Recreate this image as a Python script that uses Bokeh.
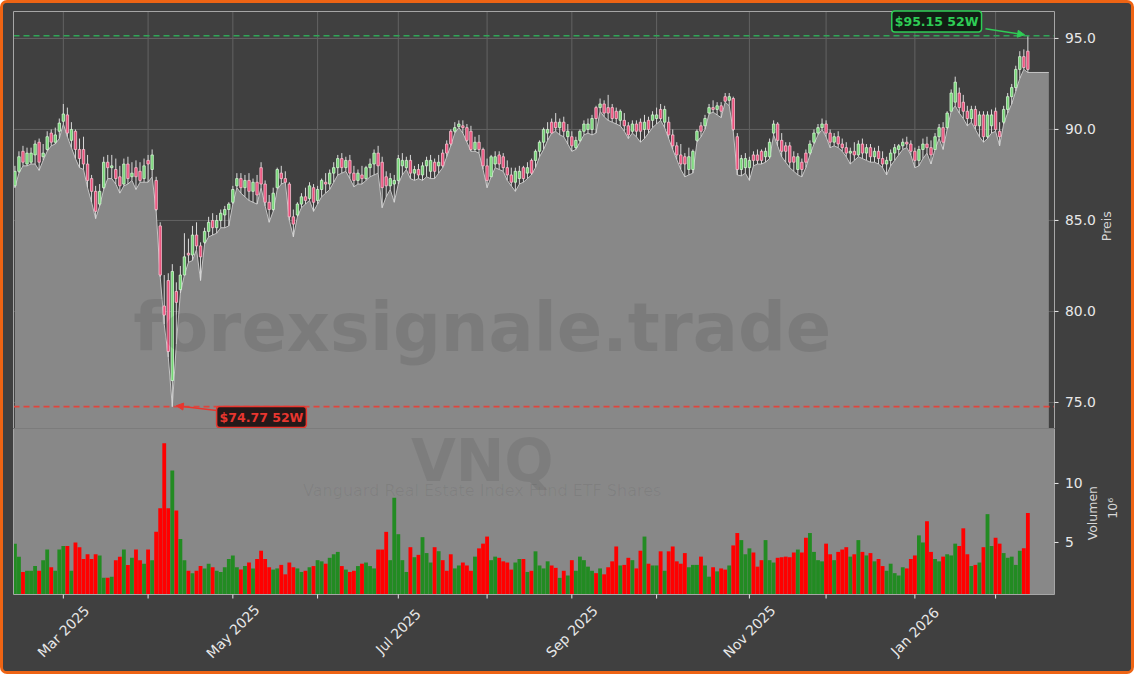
import math
import pandas as pd
from bokeh.plotting import figure
from bokeh.layouts import column
from bokeh.models import ColumnDataSource, Range1d, Label, Arrow, NormalHead
from bokeh.core.properties import value
from bokeh.embed import file_html
from bokeh.resources import INLINE

# ---------------- data ----------------
ticker_symbol = "VNQ"
fund_name = "Vanguard Real Estate Index Fund ETF Shares"
watermark = "forexsignale.trade"
start_date = "2025-02-12"
end_date = "2026-02-12"
market_holidays = ["2025-02-17", "2025-04-18", "2025-05-26", "2025-06-19", "2025-07-04",
                   "2025-09-01", "2025-11-27", "2025-12-25", "2026-01-01", "2026-01-19"]
high_52w = 95.15
low_52w = 74.77
price_ticks = [75, 80, 85, 90, 95]
volume_ticks = [5, 10]

opens = [86.9, 87.7, 88.8, 88.1, 88.2, 88.6, 89.3, 88.5, 88.9, 89.8,
         89.3, 89.9, 90.45, 90.8, 89.4, 89.9, 88.9, 88.9, 88.1, 87.3,
         86.6, 85.9, 86.8, 88.2, 87.9, 87.8, 87.4, 87.0, 88.1, 87.4,
         87.9, 87.7, 87.3, 88.3, 87.8, 87.2, 84.7, 80.3, 81.7, 76.2,
         81.1, 81.2, 82.0, 83.2, 83.1, 84.2, 83.6, 83.8, 84.4, 85.0,
         84.6, 85.0, 85.3, 85.6, 86.0, 86.9, 87.3, 86.8, 87.2, 86.6,
         87.1, 87.9, 87.0, 86.0, 85.6, 86.8, 87.6, 87.3, 87.0, 85.2,
         85.3, 85.9, 86.3, 86.2, 86.8, 86.1, 86.7, 87.1, 87.0, 87.6,
         87.9, 88.4, 87.9, 88.3, 87.6, 87.2, 87.5, 87.3, 87.9, 88.1,
         88.7, 88.2, 87.4, 86.9, 87.0, 87.2, 88.0, 87.9, 88.3, 87.6,
         87.8, 87.5, 88.0, 88.3, 87.7, 88.2, 88.0, 88.7, 89.2, 89.9,
         90.3, 90.2, 90.1, 89.9, 88.9, 89.3, 88.9, 88.0, 87.4, 88.5,
         88.1, 88.5, 87.9, 87.5, 87.1, 87.7, 87.3, 87.9, 87.6, 88.3,
         88.8, 89.3, 90.0, 89.8, 90.4, 90.1, 90.4, 89.9, 89.6, 89.0,
         89.4, 89.9, 90.3, 90.0, 90.6, 91.2, 91.4, 90.9, 91.2, 90.6,
         91.0, 90.5, 90.2, 89.9, 90.3, 89.9, 90.4, 90.0, 90.5, 90.8,
         90.6, 91.1, 90.4, 89.7, 89.1, 88.6, 88.1, 88.5, 87.8, 89.4,
         89.9, 90.2, 90.9, 91.2, 91.1, 91.3, 91.55, 91.8, 91.7, 89.6,
         87.8, 88.4, 87.9, 88.3, 88.6, 88.3, 88.8, 88.5, 89.8, 90.3,
         89.4, 88.8, 89.1, 88.2, 88.5, 87.8, 88.2, 88.7, 89.3, 89.8,
         90.1, 90.3, 89.8, 89.3, 89.6, 89.2, 89.0, 88.7, 88.8, 88.6,
         89.2, 88.7, 89.0, 88.5, 88.8, 88.4, 88.1, 88.3, 88.7, 88.9,
         89.1, 89.3, 89.2, 88.8, 88.3, 88.9, 89.2, 89.0, 88.9, 89.6,
         90.1, 90.1, 91.0, 91.5, 92.0, 91.5, 91.0, 90.6, 91.1, 90.2,
         90.8, 89.6, 90.2, 91.0, 89.9, 90.4, 91.1, 91.8, 92.3, 93.3,
         94.0, 94.3]
highs = [88.0, 88.8, 89.1, 89.0, 89.0, 89.4, 89.5, 89.2, 89.9, 90.0,
         90.1, 90.6, 91.4, 91.2, 90.4, 90.0, 89.5, 89.6, 88.6, 87.5,
         86.9, 87.0, 88.5, 88.6, 88.6, 88.4, 88.0, 88.4, 88.5, 88.2,
         88.3, 88.2, 88.4, 88.6, 88.9, 87.4, 84.9, 82.0, 82.1, 82.6,
         81.6, 82.5, 84.3, 84.0, 84.7, 84.9, 83.8, 84.6, 85.2, 85.4,
         85.3, 85.6, 85.8, 86.0, 86.9, 87.6, 87.6, 87.5, 87.6, 87.3,
         87.5, 88.2, 87.2, 86.4, 86.8, 87.9, 88.0, 87.7, 87.1, 85.6,
         86.0, 86.5, 86.8, 87.1, 87.0, 86.9, 87.3, 87.6, 87.8, 88.2,
         88.6, 88.7, 88.5, 88.6, 88.0, 87.8, 88.0, 88.0, 88.4, 88.9,
         89.1, 88.5, 87.7, 87.6, 87.5, 88.6, 88.7, 88.5, 88.6, 88.0,
         88.1, 88.2, 88.5, 88.6, 88.4, 88.6, 88.9, 89.4, 90.0, 90.4,
         90.5, 90.5, 90.3, 90.2, 89.6, 89.7, 89.0, 88.4, 88.6, 88.8,
         88.8, 88.7, 88.3, 87.9, 87.9, 88.0, 88.0, 88.2, 88.4, 88.9,
         89.4, 90.1, 90.4, 90.6, 90.9, 90.6, 90.7, 90.3, 89.9, 89.6,
         90.0, 90.5, 90.6, 90.8, 91.3, 91.7, 91.6, 91.9, 91.4, 91.2,
         91.1, 90.9, 90.4, 90.5, 90.5, 90.6, 90.8, 90.7, 91.0, 91.2,
         91.4, 91.3, 90.7, 90.0, 89.3, 89.2, 88.7, 89.0, 88.9, 90.0,
         90.4, 90.8, 91.4, 91.6, 91.5, 91.5, 92.0, 92.0, 91.8, 89.8,
         88.6, 88.7, 88.5, 88.8, 88.9, 88.9, 89.0, 89.5, 90.5, 90.4,
         89.8, 89.3, 89.3, 88.8, 88.7, 88.4, 88.9, 89.4, 90.0, 90.3,
         90.6, 90.5, 90.0, 89.8, 89.9, 89.5, 89.3, 89.0, 89.3, 89.4,
         89.5, 89.2, 89.2, 89.0, 89.1, 88.8, 88.5, 88.9, 89.2, 89.2,
         89.5, 89.6, 89.4, 89.0, 89.1, 89.5, 89.6, 89.4, 89.8, 90.3,
         90.4, 91.0, 92.2, 92.9, 92.3, 91.9, 91.3, 91.3, 91.3, 91.0,
         91.0, 91.0, 91.1, 91.2, 90.4, 91.3, 92.0, 92.5, 93.5, 94.3,
         94.4, 95.15]
lows = [86.8, 87.6, 88.0, 88.0, 88.1, 88.1, 87.75, 88.3, 88.8, 89.1,
        89.2, 89.5, 90.3, 89.6, 89.0, 88.4, 87.9, 87.8, 86.8, 86.0,
        85.1, 85.8, 86.7, 87.3, 87.3, 87.0, 86.5, 86.9, 87.0, 87.2,
        86.7, 87.1, 87.1, 87.1, 87.4, 85.5, 81.9, 79.3, 77.5, 74.77,
        78.2, 81.0, 82.0, 82.7, 82.8, 83.4, 81.7, 83.7, 84.1, 84.2,
        84.3, 84.6, 84.6, 84.7, 85.9, 86.8, 86.5, 86.3, 86.1, 86.0,
        85.9, 86.8, 85.8, 84.9, 85.5, 86.7, 87.0, 87.1, 85.0, 84.1,
        85.2, 85.7, 85.9, 86.1, 85.5, 85.9, 86.3, 86.5, 86.7, 87.1,
        87.5, 87.6, 87.7, 87.3, 86.85, 87.0, 87.0, 87.2, 87.4, 87.5,
        87.6, 85.7, 86.3, 86.7, 86.0, 87.0, 87.5, 87.8, 87.3, 87.2,
        87.3, 87.2, 87.4, 87.3, 87.3, 87.6, 87.9, 88.5, 89.1, 89.8,
        90.1, 89.8, 89.3, 88.8, 88.8, 88.7, 87.8, 86.8, 87.4, 87.9,
        87.8, 87.7, 87.2, 86.9, 86.6, 87.0, 87.1, 87.3, 87.5, 87.9,
        88.5, 88.9, 89.4, 89.8, 89.9, 89.7, 89.6, 89.2, 88.8, 88.9,
        89.3, 89.7, 89.8, 89.7, 89.8, 91.0, 90.7, 90.5, 90.4, 90.3,
        90.2, 89.9, 89.5, 89.8, 89.6, 89.3, 89.5, 89.8, 90.1, 90.3,
        90.5, 90.1, 89.5, 88.9, 88.35, 87.8, 87.4, 87.5, 87.6, 89.3,
        89.6, 90.0, 90.85, 90.95, 90.8, 90.65, 91.5, 91.3, 89.9, 87.5,
        87.45, 87.6, 87.2, 88.0, 88.1, 88.1, 88.2, 88.4, 89.7, 89.1,
        88.5, 88.2, 87.9, 87.7, 87.5, 87.4, 87.9, 88.6, 89.2, 89.7,
        90.0, 89.6, 89.0, 89.1, 89.0, 88.8, 88.5, 88.1, 88.3, 88.5,
        88.4, 88.3, 88.2, 88.2, 88.1, 87.9, 87.5, 88.0, 88.3, 88.6,
        88.9, 89.0, 88.6, 87.9, 88.0, 88.4, 88.7, 88.1, 88.9, 89.5,
        88.9, 90.0, 91.0, 91.3, 90.9, 90.6, 90.2, 90.4, 90.0, 89.6,
        89.3, 89.5, 89.8, 89.9, 89.1, 90.3, 90.9, 91.4, 92.1, 92.8,
        93.3, 93.13]
closes = [87.7, 88.5, 88.2, 88.7, 88.7, 89.2, 88.2, 88.7, 89.6, 89.3,
          89.7, 90.35, 90.85, 89.8, 90.0, 88.9, 88.4, 88.1, 87.2, 86.6,
          85.5, 86.6, 88.2, 87.9, 88.0, 87.3, 86.9, 88.1, 87.3, 87.6,
          87.4, 87.2, 88.0, 88.1, 88.6, 85.6, 82.0, 79.8, 77.8, 82.2,
          80.5, 82.0, 83.0, 83.1, 84.2, 83.6, 83.0, 84.4, 84.9, 84.6,
          85.0, 85.4, 85.6, 85.9, 86.7, 87.3, 86.8, 87.2, 86.6, 87.1,
          86.4, 87.0, 86.0, 85.6, 86.5, 87.8, 87.3, 87.1, 85.2, 84.8,
          85.9, 86.3, 86.1, 86.9, 86.0, 86.7, 87.2, 87.0, 87.6, 87.9,
          88.4, 87.9, 88.3, 87.6, 87.2, 87.6, 87.3, 87.9, 88.1, 88.7,
          88.0, 86.8, 86.9, 87.3, 87.2, 88.4, 88.3, 88.3, 87.6, 87.8,
          87.5, 88.0, 88.3, 87.7, 88.2, 88.0, 88.7, 89.2, 89.9, 90.1,
          90.15, 90.1, 89.4, 88.9, 89.3, 88.9, 88.0, 87.2, 88.5, 88.1,
          88.6, 87.9, 87.5, 87.1, 87.7, 87.3, 87.9, 87.6, 88.3, 88.8,
          89.3, 90.0, 89.8, 90.4, 90.1, 90.4, 89.9, 89.6, 89.1, 89.4,
          89.9, 90.3, 90.0, 90.6, 91.2, 91.4, 90.9, 91.2, 90.6, 91.0,
          90.5, 90.2, 89.7, 90.3, 89.9, 90.4, 90.0, 90.5, 90.8, 90.6,
          91.1, 90.4, 89.7, 89.1, 88.6, 88.1, 88.5, 87.8, 88.8, 89.9,
          90.2, 90.6, 91.2, 91.1, 91.3, 91.0, 91.8, 91.6, 90.0, 87.8,
          88.4, 87.9, 88.3, 88.6, 88.3, 88.8, 88.5, 89.3, 90.3, 89.4,
          88.8, 89.1, 88.2, 88.5, 87.8, 88.2, 88.7, 89.2, 89.8, 90.1,
          90.3, 89.8, 89.3, 89.6, 89.2, 89.0, 88.7, 88.8, 88.6, 89.2,
          88.7, 89.0, 88.5, 88.8, 88.4, 88.1, 88.3, 88.7, 89.0, 89.1,
          89.3, 89.2, 88.8, 88.3, 88.9, 89.2, 89.0, 88.6, 89.6, 90.1,
          89.3, 90.9, 92.0, 92.6, 91.2, 91.0, 90.6, 91.1, 90.2, 90.8,
          89.6, 90.8, 90.8, 90.0, 89.6, 91.1, 91.8, 92.3, 93.3, 94.0,
          93.4, 93.3]
volumes_m = [4.9, 3.8, 2.5, 2.6, 2.6, 3.0, 2.6, 3.5, 4.4, 2.9,
             2.6, 4.4, 4.7, 4.7, 2.6, 5.0, 4.6, 3.6, 4.0, 3.6,
             4.0, 3.9, 2.0, 2.0, 2.1, 3.5, 3.8, 4.4, 3.1, 3.7,
             4.4, 3.5, 3.2, 4.4, 3.5, 5.9, 7.9, 13.4, 7.9, 11.1,
             7.7, 5.3, 3.5, 2.6, 2.4, 2.6, 3.0, 2.8, 3.2, 2.9,
             2.6, 2.5, 2.9, 3.6, 3.9, 2.9, 2.7, 3.0, 3.3, 2.8,
             3.6, 4.3, 3.6, 2.9, 2.7, 2.8, 3.1, 2.3, 3.3, 2.9,
             2.8, 2.5, 2.6, 2.9, 3.0, 3.5, 3.4, 3.2, 3.7, 4.0,
             4.2, 3.0, 2.7, 2.5, 2.6, 3.0, 3.2, 3.3, 3.0, 2.8,
             4.4, 4.4, 5.9, 3.5, 8.8, 5.7, 3.5, 2.5, 4.6, 3.75,
             3.95, 5.45, 4.1, 3.3, 4.6, 4.26, 3.5, 2.6, 4.0, 2.8,
             3.05, 3.3, 3.05, 2.6, 3.8, 4.5, 4.9, 5.5, 3.5, 3.8,
             3.7, 3.4, 3.3, 2.7, 3.3, 3.6, 3.6, 2.5, 2.6, 4.25,
             3.05, 2.8, 3.4, 3.05, 2.85, 2.0, 2.6, 2.2, 3.5, 2.6,
             3.8, 3.5, 2.95, 2.6, 2.4, 2.8, 2.3, 2.9, 3.4, 4.66,
             3.05, 3.1, 3.7, 3.5, 2.8, 4.3, 5.5, 3.2, 3.05, 3.05,
             4.25, 2.6, 4.25, 4.66, 3.4, 3.2, 4.1, 2.9, 3.1, 3.1,
             3.8, 3.05, 2.1, 2.9, 2.55, 2.8, 2.7, 3.05, 4.75, 5.8,
             5.2, 4.0, 4.5, 4.15, 2.95, 3.5, 5.2, 3.5, 3.3, 3.7,
             3.75, 3.8, 3.75, 4.15, 4.4, 4.15, 5.4, 5.8, 4.2, 3.5,
             3.4, 4.9, 4.0, 3.5, 4.2, 4.4, 4.6, 3.8, 4.0, 5.2,
             4.2, 3.9, 4.1, 3.4, 3.6, 3.0, 2.6, 3.2, 2.4, 2.2,
             2.9, 2.8, 3.6, 3.9, 5.6, 5.0, 6.8, 4.2, 3.6, 3.4,
             3.8, 4.0, 3.9, 4.9, 4.7, 6.2, 4.0, 3.0, 3.1, 3.3,
             4.6, 7.4, 4.7, 5.4, 4.9, 4.1, 3.7, 3.8, 3.1, 4.3,
             4.5, 7.5]
# up (G) / down (R) sessions, keyed by first session index
session_direction = {
    95: "GGGRGRGGGR" "GRRRGGRRRG" "RRRGGRRRRG" "GRGRGGGGRR" "GRGRGGGGGR"
        "GRRRRGRRGR" "RGRGGRGRRR" "RRGGGRGGRG" "RRGRRGGGRR" "RGGGRRRRRG" "RRGG",
    232: "GGRRRGRGRGGRRGGGGGRR",
}

# ---------------- derived ----------------
dates = pd.bdate_range(start_date, end_date, freq="C", holidays=market_holidays)
n = len(opens)
idx = list(range(n))
up = [c >= o for o, c in zip(opens, closes)]
for first, flags in session_direction.items():
    for k, ch in enumerate(flags):
        up[first + k] = ch == "G"

month_idx, month_lbl = [], {}
for i in range(1, len(dates)):
    if dates[i].month != dates[i - 1].month:
        month_idx.append(i)
        d = dates[i]
        month_lbl[i] = d.strftime("%b %Y") if d.month % 2 == 1 else ""
lbl_x = [i for i in month_idx if month_lbl[i]]
lbl_t = [month_lbl[i] for i in lbl_x]

candles = ColumnDataSource(dict(
    x=idx, high=highs, low=lows,
    top=[max(o, c) for o, c in zip(opens, closes)],
    bottom=[min(o, c) for o, c in zip(opens, closes)],
    fill=["#74d674" if u else "#ec4d7a" for u in up],
    edge=["#d4f5d4" if u else "#f7c3d1" for u in up],
))

# area under the lows, carried flat a few bars past the last session
area_x = idx + [n - 1 + 5.2]
area_y = lows + [lows[-1]]

FONT = "DejaVu Sans"
BG = "#404040"
PANEL = "#888888"
TXT = "#e8e8e8"
LBL = "#d8d8d8"
EDGE = "#a6a6a6"
GRID = "#626262"

# ---------------- layout geometry (pixels) ----------------
W, H_PRICE, H_VOL = 1128, 425, 243
LEFT, RIGHT, TOP = 10, 77, 8
VOL_PANEL_H = 166
X0, X1 = -0.35, 257.6                 # bar-index window of both panels
PY0, PY1 = 73.57, 96.48               # price window
VY0, VY1 = 0.59, 14.66                # volume window (millions)
px_bar = (W - LEFT - RIGHT) / (X1 - X0)
px_price = (H_PRICE - TOP) / (PY1 - PY0)
px_vol = VOL_PANEL_H / (VY1 - VY0)

# both canvases use their whole area as the frame; panels are drawn inside
cx0 = X0 - LEFT / px_bar
cx1 = cx0 + W / px_bar


def canvas(height, y0, y1):
    f = figure(width=W, height=height, x_range=Range1d(cx0, cx1), y_range=Range1d(y0, y1),
               output_backend="svg", toolbar_location=None,
               x_axis_location=None, y_axis_location=None, min_border=0,
               background_fill_color=BG, border_fill_color=BG, outline_line_color=None)
    f.grid.visible = False
    return f


def right_axis(f, ticks, labels, titles):
    k = len(ticks)
    f.segment(x0=[X1] * k, y0=ticks, x1=[X1 + 4 / px_bar] * k, y1=ticks,
              line_color=TXT, line_width=1)
    f.text(x=[X1 + 10.5 / px_bar] * k, y=ticks, text=labels, text_align="left",
           text_baseline="middle", text_font=value(FONT), text_font_size=value("13.9px"),
           text_color=TXT)
    for dx, txt, ty in titles:
        f.text(x=[X1 + dx / px_bar], y=[ty], text=[txt], angle=math.pi / 2,
               text_align="center", text_baseline="middle", text_font=value(FONT),
               text_font_size=value("12.5px"), text_color=LBL)


# ---------------- price panel ----------------
p = canvas(H_PRICE, PY0, PY1 + TOP / px_price)

p.segment(x0=month_idx, y0=[PY0] * len(month_idx), x1=month_idx, y1=[PY1] * len(month_idx),
          line_color=GRID, line_width=1)
p.segment(x0=[X0] * len(price_ticks), y0=price_ticks, x1=[X1] * len(price_ticks),
          y1=price_ticks, line_color=GRID, line_width=1)

p.varea(x=area_x, y1=area_y, y2=PY0, fill_color=PANEL)
p.line(area_x, area_y, line_color="#c4c4c4", line_width=1)

p.segment(x0="x", y0="high", x1="x", y1="low", source=candles,
          line_color="#d9d9d9", line_width=1)
p.vbar(x="x", width=0.6, top="top", bottom="bottom", source=candles,
       fill_color="fill", line_color="edge", line_width=0.8)

p.segment(x0=[X0], y0=[high_52w], x1=[X1], y1=[high_52w], line_color="#2fa657",
          line_dash="6 4", line_width=1.6)
p.segment(x0=[X0], y0=[low_52w], x1=[X1], y1=[low_52w], line_color="#e0453c",
          line_dash="6 4", line_width=1.6)

p.quad(left=[X0], right=[X1], bottom=[PY0], top=[PY1], fill_color=None,
       line_color=EDGE, line_width=1)

right_axis(p, price_ticks, [f"{t:.1f}" for t in price_ticks],
           [(52, "Preis", PY0 + (PY1 - PY0) * 0.485)])

p.add_layout(Label(x=115.8, y=79.1, text=watermark, text_align="center",
                   text_baseline="alphabetic", text_font=FONT, text_font_size="67px",
                   text_font_style="bold", text_color="black", text_alpha=0.09))

p.add_layout(Arrow(end=NormalHead(size=7, line_color="#2ecc55", fill_color="#2ecc55"),
                   x_start=240.5, y_start=95.53, x_end=250.2, y_end=95.2,
                   line_color="#2ecc55", line_width=1.5))
p.add_layout(Arrow(end=NormalHead(size=7, line_color="#e8362f", fill_color="#e8362f"),
                   x_start=50.0, y_start=74.56, x_end=40.0, y_end=74.82,
                   line_color="#e8362f", line_width=1.5))

p.add_layout(Label(x=228.4, y=95.93, text=f"${high_52w:.2f} 52W", text_align="center",
                   text_baseline="middle", text_font=FONT, text_font_size="12.5px",
                   text_font_style="bold", text_color="#2ecc55",
                   background_fill_color="#0d1a10", background_fill_alpha=0.9,
                   border_line_color="#2ecc55", border_line_width=1.5,
                   padding=3, border_radius=3))
p.add_layout(Label(x=61.1, y=74.2, text=f"${low_52w:.2f} 52W", text_align="center",
                   text_baseline="middle", text_font=FONT, text_font_size="12.5px",
                   text_font_style="bold", text_color="#e8362f",
                   background_fill_color="#1a0d0d", background_fill_alpha=0.9,
                   border_line_color="#e8362f", border_line_width=1.5,
                   padding=3, border_radius=3))

# ---------------- volume panel ----------------
v = canvas(H_VOL, VY1 - H_VOL / px_vol, VY1)

v.quad(left=[X0], right=[X1], bottom=[VY0], top=[VY1], fill_color=PANEL, line_color=None)
v.vbar(x=idx, width=0.95, top=volumes_m, bottom=VY0,
       fill_color=["#228b22" if u else "#ff0000" for u in up], line_color=None)
v.quad(left=[X0], right=[X1], bottom=[VY0], top=[VY1], fill_color=None,
       line_color=EDGE, line_width=1)

v.add_layout(Label(x=115.8, y=11.9, text=ticker_symbol, text_align="center",
                   text_baseline="alphabetic", text_font=FONT, text_font_size="58px",
                   text_font_style="bold", text_color="black", text_alpha=0.08))
v.add_layout(Label(x=115.8, y=9.4, text=fund_name, text_align="center",
                   text_baseline="alphabetic", text_font=FONT, text_font_size="16px",
                   text_color="black", text_alpha=0.06))

right_axis(v, volume_ticks, [str(t) for t in volume_ticks],
           [(38, "Volumen", VY0 + (VY1 - VY0) * 0.49),
            (58, "10\u2076", VY0 + (VY1 - VY0) * 0.52)])

# bottom axis: month ticks and rotated labels centred under them
v.segment(x0=month_idx, y0=[VY0] * len(month_idx), x1=month_idx,
          y1=[VY0 - 4 / px_vol] * len(month_idx), line_color=TXT, line_width=1)
v.text(x=lbl_x, y=[VY0 - 37 / px_vol] * len(lbl_x), text=lbl_t, angle=math.pi / 4,
       text_align="center", text_baseline="middle",
       text_font=value(FONT), text_font_size=value("13.9px"), text_color=TXT)

layout = column(p, v, styles={"border": "3px solid #ee6414", "border-radius": "7px",
                              "background-color": BG, "overflow": "hidden"})

open("out.html", "w").write(file_html(layout, INLINE))
